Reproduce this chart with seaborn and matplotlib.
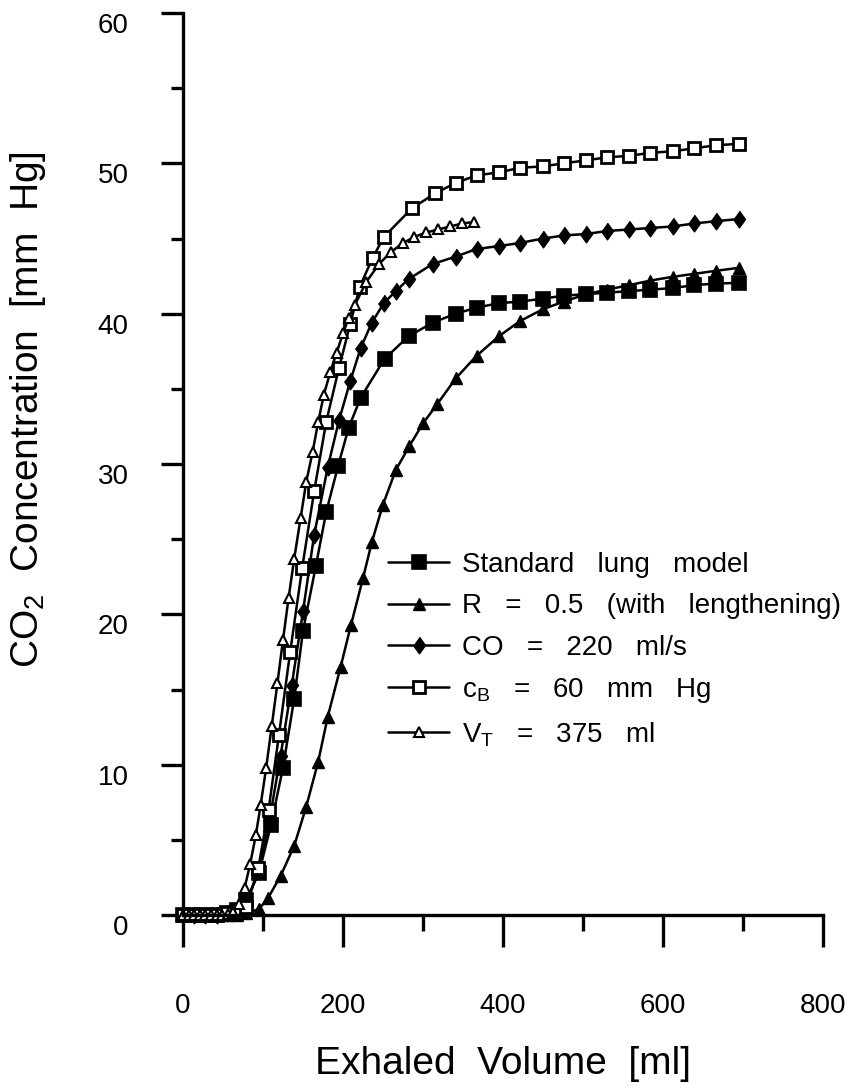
import matplotlib
matplotlib.use("Agg")
import matplotlib.pyplot as plt
import matplotlib.transforms as mtransforms
import seaborn as sns
import numpy as np

# Exhaled volume [ml] and CO2 concentration [mm Hg] per model variant
vol_std = [0, 14, 28, 42, 55, 67, 79, 95, 110, 125, 139, 150, 166, 179, 194, 207, 222,
           252, 282, 312, 341, 367, 395, 421, 450, 476, 504, 530, 558, 584, 612, 639, 666, 695]
co2_std = [0, 0, 0, 0, 0.1, 0.3, 1.0, 2.8, 6.0, 9.8, 14.4, 18.9, 23.2, 26.8, 29.9, 32.4, 34.4,
           37.0, 38.5, 39.4, 40.0, 40.4, 40.7, 40.8, 41.0, 41.2, 41.3, 41.4, 41.5, 41.6, 41.7, 41.9, 42.0, 42.05]

vol_r = [0, 14, 28, 42, 55, 67, 79, 95, 106, 122, 139, 154, 169, 181, 197, 210, 225, 236, 250,
         266, 283, 300, 318, 341, 367, 395, 421, 450, 476, 504, 530, 558, 584, 612, 639, 666, 695]
co2_r = [0, 0, 0, 0, 0, 0, 0.1, 0.4, 1.1, 2.6, 4.6, 7.2, 10.2, 13.2, 16.5, 19.3, 22.4, 24.8, 27.3,
         29.6, 31.2, 32.7, 34.0, 35.7, 37.2, 38.5, 39.5, 40.3, 40.8, 41.3, 41.6, 41.9, 42.2, 42.45, 42.65, 42.85, 43.05]

vol_co = [0, 14, 28, 42, 55, 67, 79, 95, 108, 122, 136, 150, 164, 181, 195, 209, 222, 236, 251,
          266, 282, 312, 341, 367, 395, 421, 450, 476, 504, 530, 558, 584, 612, 639, 666, 695]
co2_co = [0, 0, 0, 0, 0.1, 0.3, 0.8, 3.0, 6.3, 10.6, 15.3, 20.2, 25.3, 29.8, 32.9, 35.5, 37.7, 39.4, 40.7,
          41.5, 42.3, 43.3, 43.8, 44.3, 44.5, 44.7, 45.0, 45.2, 45.3, 45.5, 45.6, 45.7, 45.8, 46.0, 46.15, 46.3]

vol_cb = [0, 14, 28, 42, 55, 67, 79, 94, 107, 120, 134, 149, 164, 179, 195, 209, 221, 237, 251,
          286, 315, 341, 367, 395, 421, 450, 476, 504, 530, 558, 584, 612, 639, 666, 695]
co2_cb = [0, 0, 0, 0, 0.1, 0.2, 0.5, 3.1, 7.0, 12.0, 17.5, 23.1, 28.2, 32.8, 36.4, 39.3, 41.8, 43.7, 45.1,
          47.0, 48.0, 48.7, 49.2, 49.4, 49.7, 49.8, 50.0, 50.2, 50.4, 50.5, 50.7, 50.8, 51.0, 51.2, 51.3]

vol_vt = [0, 7, 14, 21, 28, 35, 42, 49, 56, 63, 70, 77, 84, 91, 97, 104, 111, 118, 125, 132, 139,
          147, 154, 162, 169, 176, 184, 192, 200, 207, 215, 229, 245, 260, 275, 289, 304, 319, 334, 349, 364]
co2_vt = [0, 0, 0, 0, 0, 0, 0, 0, 0.05, 0.2, 0.7, 1.8, 3.4, 5.3, 7.3, 9.8, 12.6, 15.4, 18.3, 21.1, 23.7,
          26.4, 28.8, 30.8, 32.8, 34.6, 36.1, 37.4, 38.7, 39.7, 40.6, 42.1, 43.3, 44.1, 44.7, 45.1, 45.4,
          45.6, 45.8, 46.0, 46.1]

labels = ['Standard   lung   model',
          'R   =   0.5   (with   lengthening)',
          'CO   =   220   ml/s',
          r'c$_\mathregular{B}$   =   60   mm   Hg',
          r'V$_\mathregular{T}$   =   375   ml']

sns.set_style('ticks')
plt.rcParams['font.family'] = ['Liberation Sans', 'DejaVu Sans']
plt.rcParams.update({'text.color': 'black', 'axes.labelcolor': 'black',
                     'xtick.color': 'black', 'ytick.color': 'black'})

fig = plt.figure(figsize=(8.5, 10.89), dpi=100)
ax = fig.add_axes([183 / 850, 1 - 915 / 1089, 640 / 850, 902 / 1089])

diamond = [(0, 1), (0.72, 0), (0, -1), (-0.72, 0)]
lw = 1.8
sns.lineplot(x=vol_std, y=co2_std, ax=ax, color='black', lw=lw, marker='s', ms=10.5,
             mfc='black', mec='black', mew=1.2, label=labels[0], clip_on=False)
sns.lineplot(x=vol_r, y=co2_r, ax=ax, color='black', lw=lw, marker='^', ms=9,
             mfc='black', mec='black', mew=1.0, label=labels[1], clip_on=False)
sns.lineplot(x=vol_co, y=co2_co, ax=ax, color='black', lw=lw, marker=diamond, ms=12,
             mfc='black', mec='black', mew=1.0, label=labels[2], clip_on=False)
sns.lineplot(x=vol_cb, y=co2_cb, ax=ax, color='black', lw=lw, marker='s', ms=9,
             mfc='white', mec='black', mew=2.0, label=labels[3], clip_on=False)
sns.lineplot(x=vol_vt, y=co2_vt, ax=ax, color='black', lw=lw, marker='^', ms=7.5,
             mfc='white', mec='black', mew=1.5, label=labels[4], clip_on=False)

ax.set_xlim(0, 800)
ax.set_ylim(0, 60)
ax.set_xticks(np.arange(0, 801, 200))
ax.set_xticks(np.arange(100, 800, 200), minor=True)
ax.set_yticks(np.arange(0, 61, 10))
ax.set_yticks(np.arange(5, 60, 10), minor=True)
sns.despine(ax=ax)
for sp in ['left', 'bottom']:
    ax.spines[sp].set_linewidth(2.4)
    ax.spines[sp].set_color('black')

ax.tick_params(axis='x', which='major', length=23, width=2.4, pad=33, labelsize=20)
ax.tick_params(axis='x', which='minor', length=11.5, width=2.4)
ax.tick_params(axis='y', which='major', length=16, width=2.4, pad=23, labelsize=20)
ax.tick_params(axis='y', which='minor', length=8.5, width=2.4)

# y tick labels sit a little below their ticks in the original
shift = mtransforms.ScaledTranslation(0, -0.1, fig.dpi_scale_trans)
for lab in ax.get_yticklabels():
    lab.set_transform(lab.get_transform() + shift)

ax.set_xlabel('Exhaled  Volume  [ml]', fontsize=28)
ax.set_ylabel(r'CO$_\mathregular{2}$  Concentration  [mm  Hg]', fontsize=28)
ax.xaxis.set_label_coords(0.5, (915 - 1046) / 902)
ax.yaxis.set_label_coords((48 - 183) / 640, 0.56)

ax.legend(loc='upper left', bbox_to_anchor=(388 / 850, 1 - 552 / 1089),
          bbox_transform=fig.transFigure, frameon=False, fontsize=20,
          handlelength=2.2, handletextpad=0.45, labelspacing=0.55,
          borderpad=0, borderaxespad=0)

fig.savefig('out.png', dpi=100)
